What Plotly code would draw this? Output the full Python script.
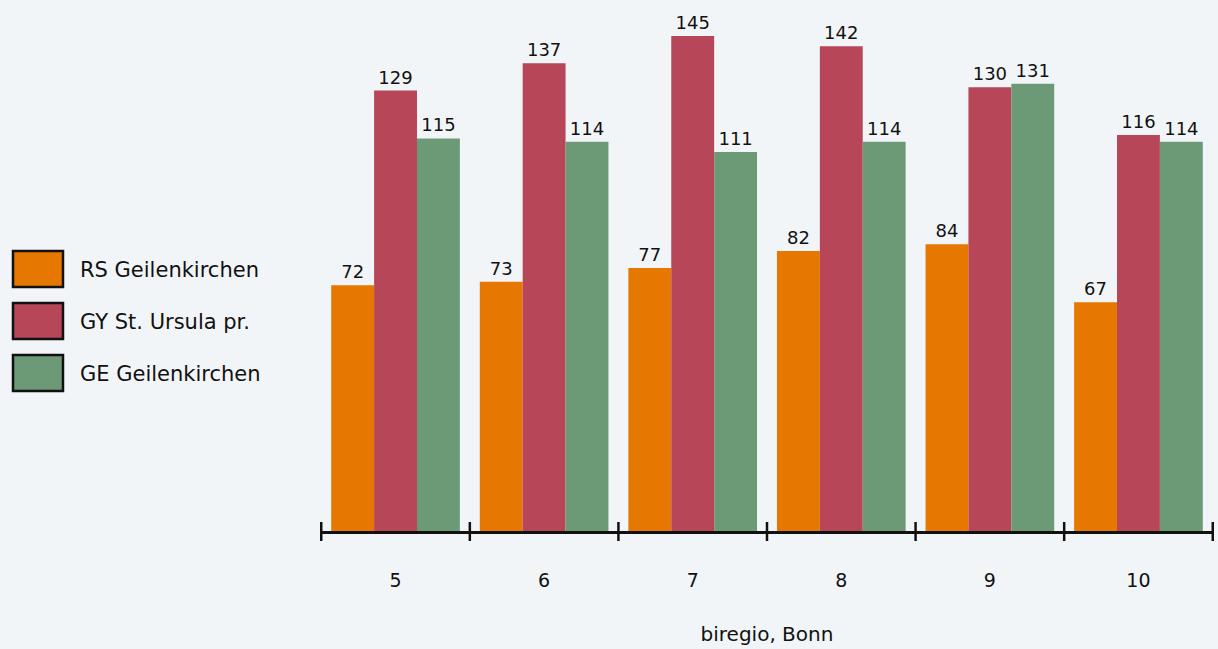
import plotly.graph_objects as go

categories = ["5", "6", "7", "8", "9", "10"]
series_names = ["RS Geilenkirchen", "GY St. Ursula pr.", "GE Geilenkirchen"]
rs_values = [72, 73, 77, 82, 84, 67]
gy_values = [129, 137, 145, 142, 130, 116]
ge_values = [115, 114, 111, 114, 131, 114]
colors = ["#e67700", "#b64658", "#6d9a76"]
x_title = "biregio, Bonn"

FONT = "DejaVu Sans"
BG = "#f2f5f8"

W, H = 1218, 649
L, R, T, B = 320, 4, 0, 118
PW, PH = W - L - R, H - T - B

fig = go.Figure()
for name, vals, col in zip(series_names, [rs_values, gy_values, ge_values], colors):
    fig.add_trace(go.Bar(
        x=categories, y=vals, name=name, marker=dict(color=col, line=dict(width=0)),
        text=[str(v) for v in vals], textposition="outside",
        textfont=dict(family=FONT, size=18, color="#111111"),
        cliponaxis=False, showlegend=False, hoverinfo="skip",
    ))

def px_x(px):
    return (px - L) / PW

def px_y(py):
    return (H - B - py) / PH

shapes = []
annotations = []
# custom legend
for i, (name, col) in enumerate(zip(series_names, colors)):
    top = 250 + i * 52
    shapes.append(dict(type="rect", xref="paper", yref="paper",
                       x0=px_x(13), x1=px_x(63), y0=px_y(top + 37), y1=px_y(top + 1),
                       fillcolor=col, line=dict(color="#111111", width=2.5)))
    annotations.append(dict(xref="paper", yref="paper", x=px_x(78), y=px_y(top + 20),
                            xanchor="left", yanchor="middle", showarrow=False,
                            text=name, font=dict(family=FONT, size=21, color="#111111")))
# tick marks crossing the axis at category boundaries
for i in range(len(categories) + 1):
    shapes.append(dict(type="line", xref="x", yref="paper",
                       x0=i - 0.5, x1=i - 0.5, y0=px_y(541), y1=px_y(522),
                       line=dict(color="#111111", width=2.5)))

fig.update_layout(
    width=W, height=H,
    margin=dict(l=L, r=R, t=T, b=B),
    paper_bgcolor=BG, plot_bgcolor=BG,
    barmode="group", bargap=0.134, bargroupgap=0,
    font=dict(family=FONT, size=19, color="#111111"),
    shapes=shapes, annotations=annotations,
    xaxis=dict(type="category", showline=True, linecolor="#111111", linewidth=2.5,
               showgrid=False, ticks="", ticklabelstandoff=30, fixedrange=True,
               tickfont=dict(family=FONT, size=19, color="#111111"),
               title=dict(text=x_title, standoff=38, font=dict(family=FONT, size=20, color="#111111"))),
    yaxis=dict(range=[0, 531 / 3.414], visible=False, showgrid=False, zeroline=False, fixedrange=True),
)

fig.write_html("out.html", config={"displayModeBar": False},
               post_script="document.body.style.margin='0';document.body.style.background='%s';" % BG)
